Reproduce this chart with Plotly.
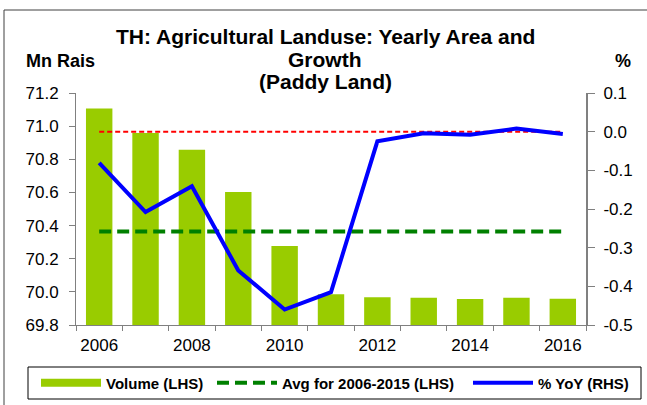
import plotly.graph_objects as go

years = [2006, 2007, 2008, 2009, 2010, 2011, 2012, 2013, 2014, 2015, 2016]
volume = [71.106, 70.959, 70.858, 70.603, 70.277, 69.985, 69.967, 69.965, 69.957, 69.965, 69.959]
avg_2006_2015 = [70.364] * 11
yoy = [-0.081, -0.208, -0.141, -0.359, -0.460, -0.415, -0.025, -0.004, -0.008, 0.008, -0.006]
zero_ref = [0.0, 0.0, 0.0, 0.0, 0.0, 0.0, 0.0, 0.0, 0.0, 0.0, 0.0]

left_ticks = [69.8, 70.0, 70.2, 70.4, 70.6, 70.8, 71.0, 71.2]
left_ticktext = ["69.8", "70.0", "70.2", "70.4", "70.6", "70.8", "71.0", "71.2"]
right_ticks = [-0.5, -0.4, -0.3, -0.2, -0.1, 0.0, 0.1]
right_ticktext = ["-0.5", "-0.4", "-0.3", "-0.2", "-0.1", "0.0", "0.1"]
x_ticks = [2006, 2008, 2010, 2012, 2014, 2016]

title_lines = ["TH: Agricultural Landuse: Yearly Area and", "Growth", "(Paddy Land)"]

W, H = 647, 405
L, R, T, B = 76, 586, 93, 325
FONT = "Arial, Liberation Sans, sans-serif"


def px(x):
    return (x - L) / (R - L)


def py(y):
    return (B - y) / (B - T)


fig = go.Figure()

fig.add_trace(go.Bar(
    x=years, y=volume, name="Volume (LHS)", marker=dict(color="#99CC00", line=dict(width=0)),
    width=0.57, showlegend=False, yaxis="y",
))
# legend proxy for the bar series (wide swatch like the original)
fig.add_trace(go.Scatter(
    x=[None], y=[None], mode="lines", name="Volume (LHS)",
    line=dict(color="#99CC00", width=8), yaxis="y", legend="legend",
))
fig.add_trace(go.Scatter(
    x=years, y=avg_2006_2015, mode="lines", name="Avg for 2006-2015 (LHS)",
    line=dict(color="#008000", width=4, dash="12px,6px"), yaxis="y", legend="legend2",
))
fig.add_trace(go.Scatter(
    x=years, y=zero_ref, mode="lines", showlegend=False,
    line=dict(color="#FF0000", width=2, dash="5px,3px"), yaxis="y2",
))
fig.add_trace(go.Scatter(
    x=years, y=yoy, mode="lines", name="% YoY (RHS)",
    line=dict(color="#0000FF", width=4), yaxis="y2", legend="legend3",
))

axis_font = dict(family=FONT, size=17, color="#000000")

title_y = [37, 59, 81]
annotations = [
    dict(text="<b>%s</b>" % t, x=px(325), y=py(yy), xref="paper", yref="paper",
         xanchor="center", yanchor="middle", showarrow=False,
         font=dict(family=FONT, size=21, color="#000000"))
    for t, yy in zip(title_lines, title_y)
]
annotations += [
    dict(text="<b>Mn Rais</b>", x=px(24), y=py(61), xref="paper", yref="paper",
         xanchor="left", yanchor="middle", showarrow=False,
         font=dict(family=FONT, size=18, color="#000000")),
    dict(text="<b>%</b>", x=px(623), y=py(61), xref="paper", yref="paper",
         xanchor="center", yanchor="middle", showarrow=False,
         font=dict(family=FONT, size=18, color="#000000")),
]

legend_font = dict(family=FONT, size=15, color="#000000", weight="bold")


def legend_at(x_left):
    return dict(
        orientation="h", x=px(x_left), xanchor="left", y=py(383), yanchor="middle",
        bgcolor="rgba(0,0,0,0)", borderwidth=0, font=legend_font, itemwidth=60,
    )


fig.update_layout(
    width=W, height=H,
    margin=dict(l=L, r=W - R, t=T, b=H - B, pad=0, autoexpand=False),
    paper_bgcolor="white", plot_bgcolor="white",
    font=dict(family=FONT, color="#000000"),
    xaxis=dict(
        range=[2005.5, 2016.5], tickmode="array", tickvals=x_ticks, ticks="",
        showline=True, linecolor="#808080", linewidth=1, showgrid=False, zeroline=False,
        tickfont=axis_font, ticklabelstandoff=5,
        minor=dict(tick0=2005.5, dtick=1, ticks="outside", ticklen=5, tickcolor="#808080", showgrid=False),
    ),
    yaxis=dict(
        range=[69.8, 71.2], tickmode="array", tickvals=left_ticks, ticktext=left_ticktext,
        ticks="outside", ticklen=6, tickcolor="#808080",
        showline=True, linecolor="#808080", linewidth=1, showgrid=False, zeroline=False,
        tickfont=axis_font, ticklabelstandoff=7,
    ),
    yaxis2=dict(
        range=[-0.5, 0.1], tickmode="array", tickvals=right_ticks, ticktext=right_ticktext,
        overlaying="y", side="right",
        ticks="outside", ticklen=7, tickcolor="#808080",
        showline=True, linecolor="#808080", linewidth=2, showgrid=False, zeroline=False,
        tickfont=axis_font, ticklabelstandoff=5,
    ),
    legend=legend_at(36),
    legend2=legend_at(212),
    legend3=legend_at(468),
    annotations=annotations,
    shapes=[
        dict(type="line", xref="paper", yref="paper", x0=px(4), x1=px(660), y0=py(10), y1=py(10),
             line=dict(color="#404040", width=1)),
        dict(type="line", xref="paper", yref="paper", x0=px(4), x1=px(4), y0=py(10), y1=py(420),
             line=dict(color="#404040", width=1)),
        dict(type="rect", xref="paper", yref="paper", x0=px(28), x1=px(641), y0=py(367), y1=py(399),
             line=dict(color="#000000", width=1), fillcolor="rgba(0,0,0,0)"),
    ],
)

fig.write_html(
    "out.html",
    config={"displayModeBar": False},
    post_script="document.body.style.margin='0';document.body.style.overflow='hidden';",
)
